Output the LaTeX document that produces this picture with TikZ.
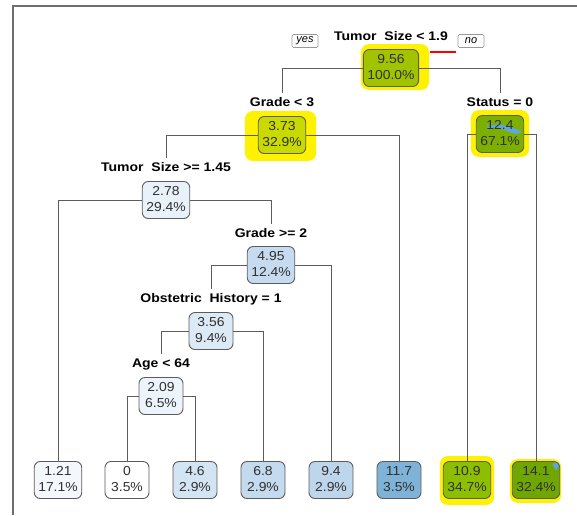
\documentclass[tikz,border=0pt]{standalone}
\usepackage{fontspec}
\setmainfont{Liberation Sans}
\newfontfamily\splitfont[FakeStretch=1.12]{Liberation Sans}
\newfontfamily\boxfont[FakeStretch=1.07]{Liberation Sans}
\usepackage{tikz}
\usetikzlibrary{backgrounds}

\definecolor{framegray}{HTML}{6E6E6E}
\definecolor{edgegray}{HTML}{5C5C5C}
\definecolor{boxtext}{HTML}{303030}
\definecolor{greenA}{HTML}{A2C400}
\definecolor{greenB}{HTML}{C9DA00}
\definecolor{greenC}{HTML}{7DAF00}
\definecolor{greenD}{HTML}{8EBE00}
\definecolor{greenE}{HTML}{6FA600}
\definecolor{blueA}{HTML}{F4F8FD}
\definecolor{blueB}{HTML}{FFFFFF}
\definecolor{blueC}{HTML}{D3E4F3}
\definecolor{blueD}{HTML}{C4DAEE}
\definecolor{blueE}{HTML}{BDD6EB}
\definecolor{blueF}{HTML}{7EB3D7}
\definecolor{blueG}{HTML}{E9F1FA}
\definecolor{blueH}{HTML}{C6DBEF}
\definecolor{blueI}{HTML}{DCEAF6}
\definecolor{blueJ}{HTML}{EEF4FB}
\definecolor{scribble}{HTML}{5FA6DC}

\tikzset{
	treebox/.style={draw=edgegray,rounded corners=6pt,line width=0.9pt,minimum width=44pt,minimum height=37pt,inner xsep=4pt,inner ysep=2pt,text=boxtext,font=\boxfont\fontsize{13}{16}\selectfont},
	splitlabel/.style={font=\splitfont\bfseries\fontsize{12.5}{14}\selectfont,inner sep=4pt},
	branch/.style={draw=edgegray,line width=0.8pt},
	answer/.style={draw=gray!80,rounded corners=1.5pt,line width=0.7pt,minimum width=26pt,minimum height=13pt,inner sep=1pt,font=\itshape\fontsize{11}{12}\selectfont},
	hilite/.style={fill=yellow,rounded corners=8pt}
}

\begin{document}
\begin{tikzpicture}[x=1pt,y=-1pt]
		    \useasboundingbox (0,0) rectangle (577,515);
		    \draw[framegray,line width=2pt] (577,6) -- (13,6) -- (13,515);
		
		    \node[splitlabel] (lab1) at (391,36) {Tumor\ \ Size < 1.9};
		    \node[answer] (yes) at (305,41) {yes};
		    \node[answer] (no) at (471,41) {no};
		    \draw[red,line width=1.4pt] (430,52) -- (456,52);
		    \node[treebox,fill=greenA] (n1) at (391,68) {\begin{tabular}{@{}c@{}}9.56\\100.0\%\end{tabular}};
		
		    \node[splitlabel] (lab2) at (282,102) {Grade < 3};
		    \node[treebox,fill=greenB] (n2) at (282,135) {\begin{tabular}{@{}c@{}}3.73\\32.9\%\end{tabular}};
		
		    \node[splitlabel] (lab3) at (500,102) {Status = 0};
		    \node[treebox,fill=greenC,path picture={
		        \fill[scribble] ([shift={(-13,-7)}]path picture bounding box.center) .. controls +(12,-4) and +(-8,-2) .. ([shift={(14,-6)}]path picture bounding box.center) -- ([shift={(24,-2)}]path picture bounding box.center) -- ([shift={(14,1)}]path picture bounding box.center) .. controls +(-8,-5) and +(10,-2) .. ([shift={(-13,-5)}]path picture bounding box.center) -- cycle;
		    }] (n3) at (500,134) {\begin{tabular}{@{}c@{}}12.4\\67.1\%\end{tabular}};
		
		    \node[splitlabel] (lab4) at (166,167) {Tumor\ \ Size >= 1.45};
		    \node[treebox,fill=blueG] (n4) at (166,200) {\begin{tabular}{@{}c@{}}2.78\\29.4\%\end{tabular}};
		
		    \node[splitlabel] (lab5) at (271,233) {Grade >= 2};
		    \node[treebox,fill=blueH] (n5) at (271,265) {\begin{tabular}{@{}c@{}}4.95\\12.4\%\end{tabular}};
		
		    \node[splitlabel] (lab6) at (211,299) {Obstetric\ \ History = 1};
		    \node[treebox,fill=blueI] (n6) at (211,331) {\begin{tabular}{@{}c@{}}3.56\\9.4\%\end{tabular}};
		
		    \node[splitlabel] (lab7) at (161,364) {Age < 64};
		    \node[treebox,fill=blueJ] (n7) at (161,396) {\begin{tabular}{@{}c@{}}2.09\\6.5\%\end{tabular}};
		
		    \node[treebox,fill=blueA] (leaf1) at (58,480) {\begin{tabular}{@{}c@{}}1.21\\17.1\%\end{tabular}};
		    \node[treebox,fill=blueB] (leaf2) at (127,480) {\begin{tabular}{@{}c@{}}0\\3.5\%\end{tabular}};
		    \node[treebox,fill=blueC] (leaf3) at (195,480) {\begin{tabular}{@{}c@{}}4.6\\2.9\%\end{tabular}};
		    \node[treebox,fill=blueD] (leaf4) at (263,480) {\begin{tabular}{@{}c@{}}6.8\\2.9\%\end{tabular}};
		    \node[treebox,fill=blueE] (leaf5) at (331,480) {\begin{tabular}{@{}c@{}}9.4\\2.9\%\end{tabular}};
		    \node[treebox,fill=blueF] (leaf6) at (399,480) {\begin{tabular}{@{}c@{}}11.7\\3.5\%\end{tabular}};
		    \node[treebox,fill=greenD] (leaf7) at (467,480) {\begin{tabular}{@{}c@{}}10.9\\34.7\%\end{tabular}};
		    \node[treebox,fill=greenE,path picture={
		        \fill[scribble] ([shift={(-7,-1)}]path picture bounding box.north east) rectangle ([shift={(0,8)}]path picture bounding box.north east);
		    }] (leaf8) at (536,480) {\begin{tabular}{@{}c@{}}14.1\\32.4\%\end{tabular}};
		
		    \draw[branch] (n1.west) -| (lab2.north);
		    \draw[branch] (n1.east) -| (lab3.north);
		    \draw[branch] (n2.west) -| (lab4.north);
		    \draw[branch] (n2.east) -| (leaf6.north);
		    \draw[branch] (n3.west) -| (leaf7.north);
		    \draw[branch] (n3.east) -| (leaf8.north);
		    \draw[branch] (n4.west) -| (leaf1.north);
		    \draw[branch] (n4.east) -| (lab5.north);
		    \draw[branch] (n5.west) -| (lab6.north);
		    \draw[branch] (n5.east) -| (leaf5.north);
		    \draw[branch] (n6.west) -| (lab7.north);
		    \draw[branch] (n6.east) -| (leaf4.north);
		    \draw[branch] (n7.west) -| (leaf2.north);
		    \draw[branch] (n7.east) -| (leaf3.north);
		
		    \begin{scope}[on background layer]
		    \fill[hilite] ([shift={(-2,-5)}]n1.north west) rectangle ([shift={(10,3)}]n1.south east);
		    \fill[hilite] ([shift={(-13,-5)}]n2.north west) rectangle ([shift={(10,7)}]n2.south east);
		    \fill[hilite] ([shift={(-5,-5)}]n3.north west) rectangle ([shift={(5,4)}]n3.south east);
		    \fill[hilite] ([shift={(-3,-5)}]leaf7.north west) rectangle ([shift={(3,6)}]leaf7.south east);
		    \fill[hilite] ([shift={(-2,-2)}]leaf8.north west) rectangle ([shift={(1,4)}]leaf8.south east);
		    \end{scope}
	    \end{tikzpicture}
\end{document}
